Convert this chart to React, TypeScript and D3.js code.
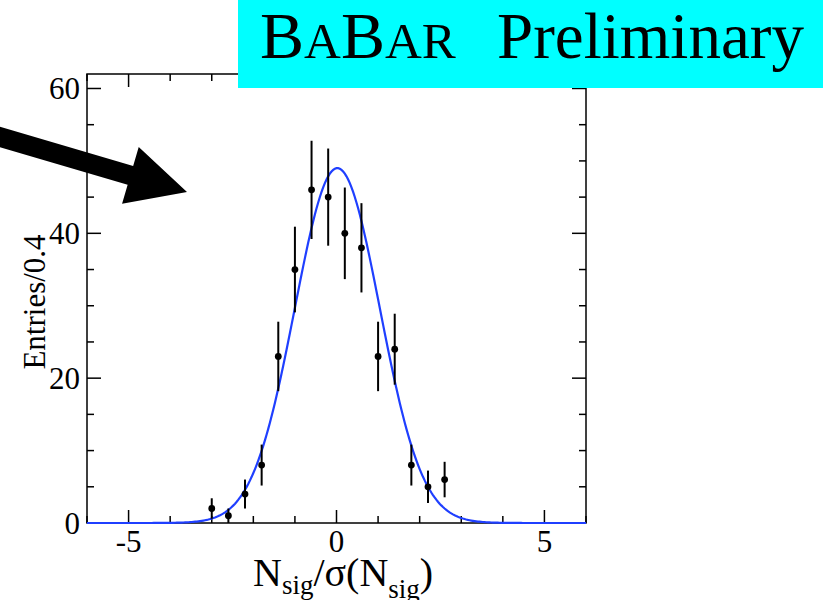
import React from "react";
import * as d3 from "d3";

// ---- data ----
const binCenters = [-3.0, -2.6, -2.2, -1.8, -1.4, -1.0, -0.6, -0.2, 0.2, 0.6, 1.0, 1.4, 1.8, 2.2, 2.6];
const counts = [2, 1, 4, 8, 23, 35, 46, 45, 40, 38, 23, 24, 8, 5, 6];
const fitAmplitude = 49;
const fitMean = 0.02;
const fitSigma = 1.02;
const xMajorTicks = [-5, 0, 5];
const yMajorTicks = [0, 20, 40, 60];
const xDomain: [number, number] = [-6, 6];
const yDomain: [number, number] = [0, 62];

const W = 823;
const H = 600;
const L = 87, R = 586, T = 74, B = 523;
const FONT = "Liberation Serif, Times New Roman, serif";
const tf = { fontFamily: FONT };

export default function App() {
  const x = d3.scaleLinear().domain(xDomain).range([L, R]);
  const y = d3.scaleLinear().domain(yDomain).range([B, T]);

  const xMinor = d3.range(-6, 6.001, 1).filter((v) => !xMajorTicks.includes(v));
  const yMinor = d3.range(0, 62, 5).filter((v) => !yMajorTicks.includes(v));

  const fitX = d3.range(xDomain[0], xDomain[1] + 1e-9, 0.04);
  const fitLine = d3
    .line<number>()
    .x((d) => x(d))
    .y((d) => y(fitAmplitude * Math.exp(-((d - fitMean) ** 2) / (2 * fitSigma * fitSigma))))
    .curve(d3.curveLinear)(fitX);

  // arrow annotation (pixel geometry)
  const tail = [-20, 131.1];
  const tip = [187, 192];
  const shaftW = 19.5, headL = 59, headW = 59;
  const dx = tip[0] - tail[0], dy = tip[1] - tail[1];
  const len = Math.hypot(dx, dy);
  const ux = dx / len, uy = dy / len;
  const nx = -uy, ny = ux;
  const bx = tip[0] - headL * ux, by = tip[1] - headL * uy;
  const arrowPts = [
    [tail[0] - nx * shaftW / 2, tail[1] - ny * shaftW / 2],
    [bx - nx * shaftW / 2, by - ny * shaftW / 2],
    [bx - nx * headW / 2, by - ny * headW / 2],
    [tip[0], tip[1]],
    [bx + nx * headW / 2, by + ny * headW / 2],
    [bx + nx * shaftW / 2, by + ny * shaftW / 2],
    [tail[0] + nx * shaftW / 2, tail[1] + ny * shaftW / 2],
  ];

  const axisStroke = { stroke: "#000", strokeWidth: 1.5 };

  return (
    <svg
      width={W}
      height={H}
      style={{ position: "absolute", left: 0, top: 0, background: "#fff" }}
    >
      <rect x={0} y={0} width={W} height={H} fill="#fff" />
      {/* frame */}
      <rect x={L} y={T} width={R - L} height={B - T} fill="none" {...axisStroke} />
      {xMajorTicks.map((v) => (
        <g key={"xM" + v}>
          <line x1={x(v)} x2={x(v)} y1={B} y2={B - 13} {...axisStroke} />
          <line x1={x(v)} x2={x(v)} y1={T} y2={T + 13} {...axisStroke} />
          <text x={x(v)} y={552} textAnchor="middle" fontSize={31} style={tf}>
            {v}
          </text>
        </g>
      ))}
      {xMinor.map((v) => (
        <g key={"xm" + v}>
          <line x1={x(v)} x2={x(v)} y1={B} y2={B - 7} {...axisStroke} />
          <line x1={x(v)} x2={x(v)} y1={T} y2={T + 7} {...axisStroke} />
        </g>
      ))}
      {yMajorTicks.map((v) => (
        <g key={"yM" + v}>
          <line x1={L} x2={L + 14} y1={y(v)} y2={y(v)} {...axisStroke} />
          <line x1={R} x2={R - 14} y1={y(v)} y2={y(v)} {...axisStroke} />
          <text x={80} y={y(v) + 11} textAnchor="end" fontSize={31} style={tf}>
            {v}
          </text>
        </g>
      ))}
      {yMinor.map((v) => (
        <g key={"ym" + v}>
          <line x1={L} x2={L + 7} y1={y(v)} y2={y(v)} {...axisStroke} />
          <line x1={R} x2={R - 7} y1={y(v)} y2={y(v)} {...axisStroke} />
        </g>
      ))}

      {/* fit curve */}
      <path d={fitLine ?? ""} fill="none" stroke="#1f3fff" strokeWidth={2.2} />

      {/* data points with sqrt(N) errors */}
      {binCenters.map((c, i) => {
        const n = counts[i];
        const e = Math.sqrt(n);
        return (
          <g key={"p" + i}>
            <line x1={x(c)} x2={x(c)} y1={y(n - e)} y2={y(n + e)} stroke="#000" strokeWidth={2} />
            <circle cx={x(c)} cy={y(n)} r={3.4} fill="#000" />
          </g>
        );
      })}

      {/* axis titles */}
      <text
        transform={`translate(45, 302) rotate(-90)`}
        textAnchor="middle"
        fontSize={31}
        style={tf}
      >
        Entries/0.4
      </text>
      <text x={253} y={586} fontSize={40} style={tf}>
        N
        <tspan fontSize={27} dy={8}>sig</tspan>
        <tspan fontSize={40} dy={-8}>/σ(N</tspan>
        <tspan fontSize={27} dy={12}>sig</tspan>
        <tspan fontSize={40} dy={-12}>)</tspan>
      </text>

      {/* arrow */}
      <polygon points={arrowPts.map((p) => p.join(",")).join(" ")} fill="#000" />

      {/* banner */}
      <rect x={238} y={0} width={W - 238} height={88} fill="#00ffff" />
      <text x={260} y={58} fontSize={66} style={tf}>
        B<tspan fontSize={51}>A</tspan>B<tspan fontSize={51}>AR</tspan>
      </text>
      <text x={497} y={58} fontSize={65} style={tf}>
        Preliminary
      </text>
    </svg>
  );
}
